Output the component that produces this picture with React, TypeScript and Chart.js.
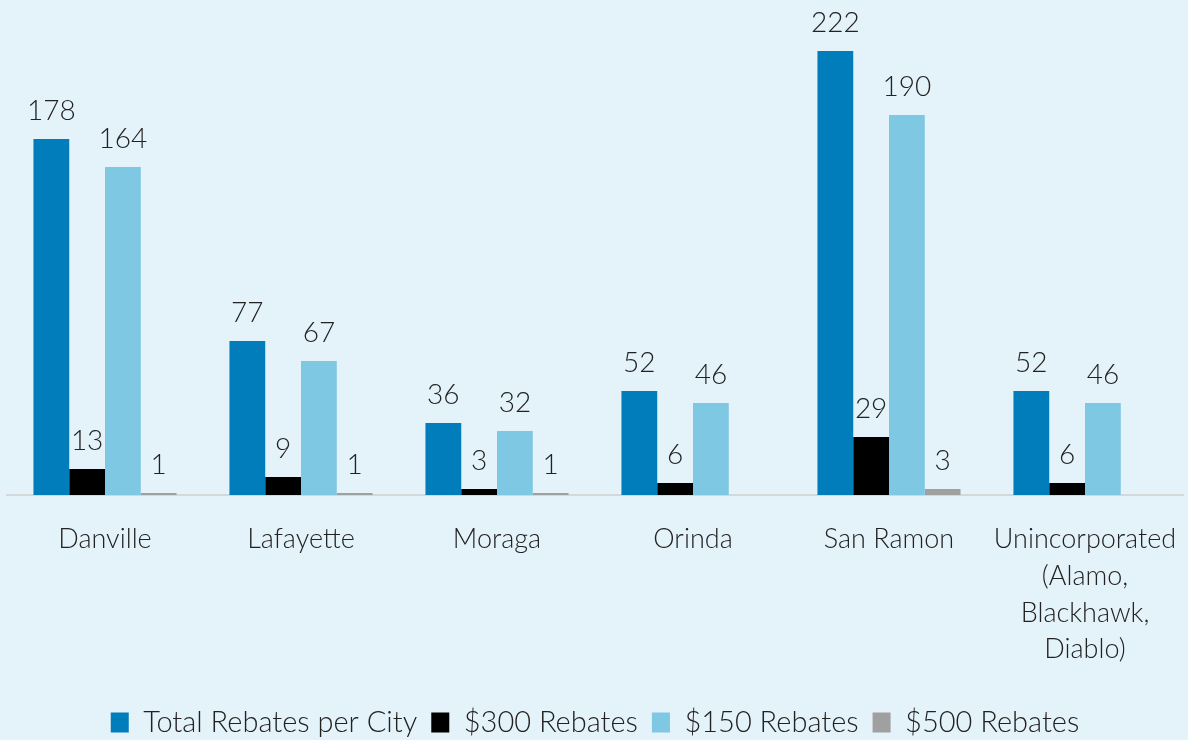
import React, { useEffect, useRef } from "react";
import { Chart, registerables } from "chart.js";

Chart.register(...registerables);

const categories: (string | string[])[] = [
  "Danville",
  "Lafayette",
  "Moraga",
  "Orinda",
  "San Ramon",
  ["Unincorporated", "(Alamo,", "Blackhawk,", "Diablo)"],
];
const totalRebates = [178, 77, 36, 52, 222, 52];
const rebates300 = [13, 9, 3, 6, 29, 6];
const rebates150 = [164, 67, 32, 46, 190, 46];
const rebates500 = [1, 1, 1, 0, 3, 0];
const seriesNames = ["Total Rebates per City", "$300 Rebates", "$150 Rebates", "$500 Rebates"];

const FONT = "Lato, 'Open Sans', sans-serif";
const BG = "#E4F2FA";

const bgPlugin = {
  id: "bg",
  beforeDraw(chart: any) {
    const ctx = chart.ctx;
    ctx.save();
    ctx.fillStyle = BG;
    ctx.fillRect(0, 0, chart.width, chart.height);
    ctx.restore();
  },
};

const valueLabels = {
  id: "valueLabels",
  afterDatasetsDraw(chart: any) {
    const ctx = chart.ctx;
    ctx.save();
    ctx.font = `300 28px ${FONT}`;
    ctx.fillStyle = "#222222";
    ctx.textAlign = "center";
    ctx.textBaseline = "bottom";
    chart.data.datasets.forEach((ds: any, i: number) => {
      const meta = chart.getDatasetMeta(i);
      meta.data.forEach((bar: any, j: number) => {
        const v = ds.data[j];
        if (!v) return;
        ctx.fillText(String(v), bar.x, bar.y - 14);
      });
    });
    ctx.restore();
  },
};

export default function App() {
  const ref = useRef<HTMLCanvasElement>(null);
  useEffect(() => {
    document.body.style.margin = "0";
    document.body.style.background = BG;
    const chart = new Chart(ref.current!, {
      type: "bar",
      data: {
        labels: categories,
        datasets: [
          { label: seriesNames[0], data: totalRebates, backgroundColor: "#007DBA" },
          { label: seriesNames[1], data: rebates300, backgroundColor: "#000000" },
          { label: seriesNames[2], data: rebates150, backgroundColor: "#7EC8E4" },
          { label: seriesNames[3], data: rebates500, backgroundColor: "#A0A0A0" },
        ],
      },
      options: {
        responsive: false,
        animation: false,
        datasets: { bar: { categoryPercentage: 0.73, barPercentage: 1 } },
        layout: { padding: { top: 15, left: 7, right: 5, bottom: -7 } },
        scales: {
          y: { display: false, min: 0, max: 240 },
          x: {
            grid: { display: false, drawTicks: false },
            border: { display: true, color: "#D4D8DA", width: 2 },
            afterFit(scale: any) {
              scale.paddingLeft = 0;
              scale.paddingRight = 0;
            },
            ticks: {
              color: "#222222",
              font: { family: FONT, size: 27, weight: 300 as any, lineHeight: 1.36 },
              padding: 26,
              maxRotation: 0,
              autoSkip: false,
            },
          },
        },
        plugins: {
          tooltip: { enabled: false },
          legend: {
            position: "bottom",
            labels: {
              color: "#222222",
              font: { family: FONT, size: 29, weight: 300 as any },
              boxWidth: 18,
              boxHeight: 20,
              padding: 14,
            },
          },
        },
      },
      plugins: [bgPlugin, valueLabels],
    });
    return () => chart.destroy();
  }, []);
  return (
    <div style={{ width: 1188, height: 740 }}>
      <canvas ref={ref} width={1188} height={740} />
    </div>
  );
}
